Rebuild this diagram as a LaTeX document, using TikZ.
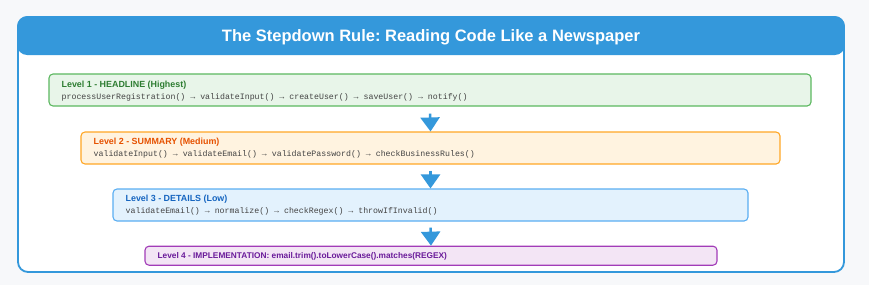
\documentclass[tikz,border=0pt]{standalone}
\usepackage{fontspec}
\setmainfont{Liberation Sans}
\newfontfamily\codefont{Liberation Mono}
\usetikzlibrary{arrows.meta}
\frenchspacing
\definecolor{bgc}{HTML}{F7F8FA}
\definecolor{mainblue}{HTML}{3498DB}
\definecolor{gborder}{HTML}{5CB860}
\definecolor{gfill}{HTML}{E8F5E9}
\definecolor{gtext}{HTML}{2E7D32}
\definecolor{oborder}{HTML}{FFA726}
\definecolor{ofill}{HTML}{FFF3E0}
\definecolor{otext}{HTML}{E65100}
\definecolor{bborder}{HTML}{5AAEF2}
\definecolor{bfill}{HTML}{E3F2FD}
\definecolor{btext}{HTML}{1565C0}
\definecolor{pborder}{HTML}{A23CB8}
\definecolor{pfill}{HTML}{F3E5F5}
\definecolor{ptext}{HTML}{6A1B9A}
\definecolor{codec}{HTML}{444444}
\tikzset{
  levelbox/.style={rectangle, rounded corners=4pt, line width=1.1pt, inner sep=0pt},
  lbl/.style={anchor=base west, inner sep=0pt, font=\fontsize{8.9}{10}\selectfont\bfseries},
  codetxt/.style={anchor=base west, inner sep=0pt, text=codec, font=\fontsize{8.25}{10}\selectfont\codefont},
  flowarrow/.style={draw=mainblue, line width=2.5pt, -{Triangle[width=19pt,length=14pt]}, fill=mainblue}
}
\begin{document}
\begin{tikzpicture}[x=1pt,y=-1pt]
\useasboundingbox (0,0) rectangle (869,285);
\fill[bgc] (0,0) rectangle (869,285);
% outer card
\draw[mainblue, line width=1.8pt, fill=white, rounded corners=10pt] (18,17) rectangle (844,272);
\fill[mainblue, rounded corners=10pt] (17.1,16.1) rectangle (844.9,55);
\node[text=white, font=\fontsize{16.5}{18}\selectfont\bfseries, inner sep=0pt] (title) at (431,37) {The Stepdown Rule: Reading Code Like a Newspaper};
% level boxes
\node[levelbox, draw=gborder, fill=gfill, minimum width=762pt, minimum height=32pt] (l1) at (430,90) {};
\node[levelbox, draw=oborder, fill=ofill, minimum width=699pt, minimum height=32pt] (l2) at (430.5,148) {};
\node[levelbox, draw=bborder, fill=bfill, minimum width=635pt, minimum height=32pt] (l3) at (430.5,205) {};
\node[levelbox, draw=pborder, fill=pfill, minimum width=572pt, minimum height=19pt] (l4) at (431,255.7) {};
% texts
\node[lbl, text=gtext] (l1t) at ([xshift=13pt,yshift=-14pt]l1.north west) {Level 1 - HEADLINE (Highest)};
\node[codetxt] (l1c) at ([xshift=13pt,yshift=-26.5pt]l1.north west) {processUserRegistration() → validateInput() → createUser() → saveUser() → notify()};
\node[lbl, text=otext] (l2t) at ([xshift=13pt,yshift=-13.5pt]l2.north west) {Level 2 - SUMMARY (Medium)};
\node[codetxt] (l2c) at ([xshift=13pt,yshift=-25.5pt]l2.north west) {validateInput() → validateEmail() → validatePassword() → checkBusinessRules()};
\node[lbl, text=btext] (l3t) at ([xshift=13pt,yshift=-13.5pt]l3.north west) {Level 3 - DETAILS (Low)};
\node[codetxt] (l3c) at ([xshift=13pt,yshift=-25.5pt]l3.north west) {validateEmail() → normalize() → checkRegex() → throwIfInvalid()};
\node[lbl, text=ptext, font=\fontsize{8.3}{10}\selectfont\bfseries] (l4t) at ([xshift=13pt,yshift=-12.6pt]l4.north west) {Level 4 - IMPLEMENTATION: email.trim().toLowerCase().matches(REGEX)};
% arrows
\draw[flowarrow] ([yshift=-7pt]l1.south) -- (l2.north);
\draw[flowarrow] ([yshift=-6pt]l2.south) -- (l3.north);
\draw[flowarrow] ([yshift=-6pt]l3.south) -- (l4.north);
\end{tikzpicture}
\end{document}
